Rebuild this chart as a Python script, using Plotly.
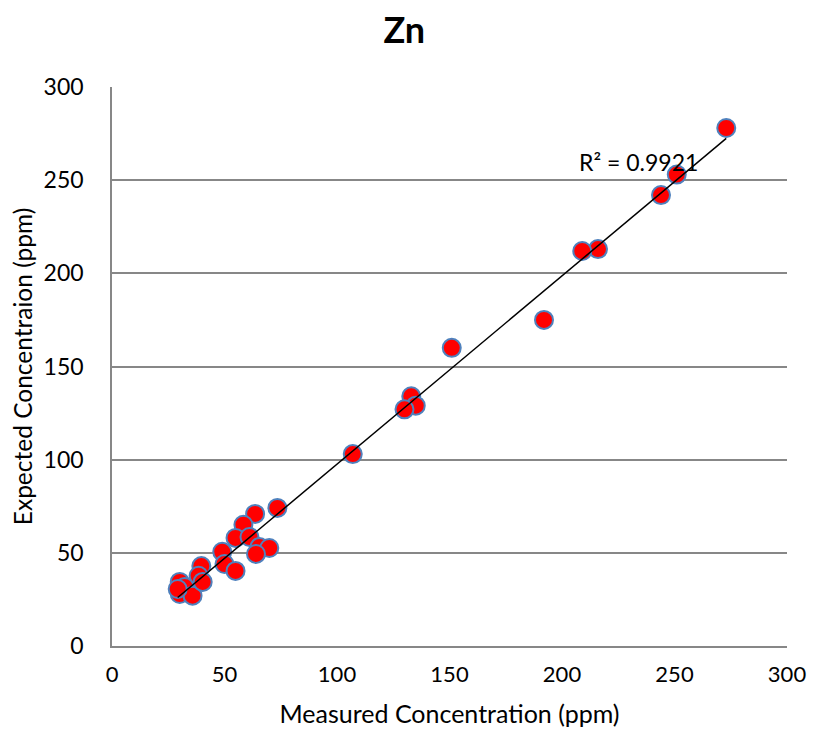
import numpy as np
import plotly.graph_objects as go

measured = [273, 251, 244, 216, 209, 192, 151, 133, 135, 130, 107,
            73.5, 63.6, 58.4, 54.9, 61.1, 65.5, 69.9, 64.0, 49.0, 50.0,
            54.9, 39.7, 38.5, 30.1, 32.3, 30.1, 35.8, 40.3, 29.2]
expected = [278, 253, 242, 213, 212, 175, 160, 134, 129, 127, 103,
            74.1, 70.9, 65.1, 58.0, 58.5, 53.1, 52.6, 49.4, 50.6, 44.0,
            40.3, 42.9, 37.7, 34.4, 31.7, 27.9, 27.0, 34.4, 30.6]
r2_text = "R² = 0.9921"

FONT = "Lato, 'Open Sans', sans-serif"

x = np.array(measured)
y = np.array(expected)
slope, intercept = np.polyfit(x, y, 1)
xl = np.array([x.min(), x.max()])
yl = slope * xl + intercept

fig = go.Figure()
fig.add_trace(go.Scatter(
    x=x, y=y, mode="markers",
    marker=dict(size=18, color="#FF0000", line=dict(color="#4F81BD", width=2)),
    showlegend=False,
))
fig.add_trace(go.Scatter(
    x=xl, y=yl, mode="lines",
    line=dict(color="black", width=1.5), showlegend=False,
))
fig.add_annotation(x=234, y=260, text=r2_text, showarrow=False,
                   font=dict(size=23, color="black", family=FONT))

# the page body has an 8px margin, so the figure is 16px smaller than the window
fig.update_layout(
    width=799, height=726,
    paper_bgcolor="white", plot_bgcolor="white",
    margin=dict(l=104, r=20, t=79, b=88),
    title=dict(text="<b>Zn</b>", x=0.496, xanchor="center", y=0.969, yanchor="middle",
               font=dict(size=36, color="black", family=FONT)),
    font=dict(family=FONT, size=23, color="black"),
    xaxis=dict(range=[0, 300], dtick=50, showgrid=False, zeroline=False,
               showline=True, linecolor="#878787", linewidth=1.5, automargin=False,
               ticks="", tickfont=dict(size=22), ticklabelstandoff=8,
               title=dict(text="Measured Concentration (ppm)", font=dict(size=25), standoff=19)),
    yaxis=dict(range=[0, 300], dtick=50, showgrid=True, gridcolor="#878787", gridwidth=1.5,
               zeroline=False, showline=True, linecolor="#878787", linewidth=1.5, automargin=False,
               ticks="", tickfont=dict(size=23), ticklabelstandoff=22,
               title=dict(text="Expected Concentraion (ppm)", font=dict(size=24.5), standoff=9)),
)
fig.write_html("out.html")
